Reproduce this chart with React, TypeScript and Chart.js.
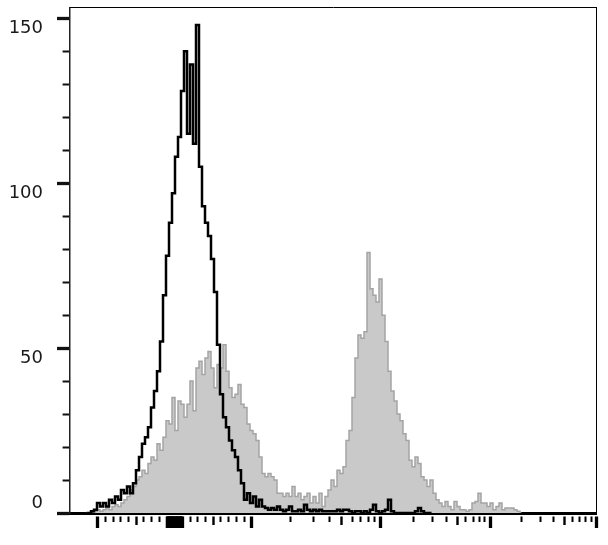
import React, { useEffect, useRef } from "react";
import { Chart, registerables } from "chart.js";

Chart.register(...registerables);

// Histogram bins on the (biexponential) display-channel axis
const CHANNEL_START = 16.5;
const CHANNEL_STEP = 3;

// Control / unstained population (black outline)
const CONTROL_COUNTS = [
  0, 0, 0.5, 1, 3, 2, 3, 2, 4, 3, 5, 4, 7, 6, 8, 6, 9, 13, 17, 21,
  23, 26, 32, 37, 43, 52, 66, 78, 88, 97, 108, 114, 128, 140, 115, 136, 112, 148, 105, 93,
  88, 84, 77, 67, 51, 36, 29, 26, 22, 19, 17, 13, 9, 4, 6, 3, 5, 2, 4, 2,
  1.5, 1, 1.5, 1, 2, 1, 0.5, 1, 2, 0.5, 0.5, 1, 0.5, 2.5, 1, 0.5, 1, 0.5, 1, 0.5,
  0.5, 0.5, 0.5, 0.5, 1, 0.5, 1, 1, 0.5, 0, 0.5, 0.5, 0, 0.5, 0, 1, 2.5, 0.5, 0, 0.5,
  1, 4, 0.5, 0, 0, 0, 0, 0, 0, 0, 0.5, 1.5, 0.5, 0, 0, 0,
];

// Stained population (grey filled)
const STAINED_COUNTS = [
  0, 0, 0, 0.5, 1, 0.5, 1, 1.5, 1, 2, 2.5, 2, 3, 4, 5, 7, 8, 10, 11, 13,
  12, 15, 17, 16, 21, 19, 23, 28, 27, 35, 25, 34, 33, 29, 33, 40, 31, 44, 46, 42,
  47, 49, 44, 38, 45, 44, 51, 43, 38, 35, 36, 39, 33, 32, 27, 25, 24, 22, 17, 12,
  11, 12, 11, 10, 6, 6, 5, 6, 5, 8, 5, 6, 4, 5, 6, 3, 5, 3, 6, 2,
  5, 7, 10, 8, 13, 12, 14, 22, 25, 35, 47, 54, 53, 55, 79, 68, 66, 64, 71, 60,
  52, 43, 37, 34, 30, 28, 24, 22, 16, 14, 17, 15, 11, 10, 8, 10, 6, 4, 3, 2,
  3.5, 2, 1, 3.5, 2, 1, 1, 0.5, 1, 3, 3.5, 6, 3, 3, 2, 3, 1, 2, 3, 1,
  1.5, 1.5, 1.5, 1, 0.5, 0,
];

const Y_TICK_VALUES = [0, 10, 20, 30, 40, 50, 60, 70, 80, 90, 100, 110, 120, 130, 140, 150];
const Y_LABEL_VALUES = [0, 50, 100, 150];
const Y_MAX = 153.3;
const X_MAX = 526;

// Fluorescence tick values (biexponential axis)
const X_LINEAR_TICKS = [
  -1000, -900, -800, -700, -600, -500, -400, -300, -200, -100,
  -90, -80, -70, -60, -50, -40, -30, -20, -10, 0, 10, 20, 30, 40, 50, 60, 70, 80, 90,
  100, 200, 300, 400, 500, 600, 700, 800, 900, 1000,
];
const X_DECADES = [1000, 10000, 100000];
const X_MULTIPLIERS = [2, 3, 4, 5, 6, 7, 8, 9, 10];

// biexponential display transform (value -> display channel)
const ZERO_CHANNEL = 104.7;
const LINEAR_CHANNELS_PER_1000 = 77;
const DECADE_CHANNELS = [129, 109.3, 106];

function toChannel(v: number): number {
  if (Math.abs(v) <= 1000) return ZERO_CHANNEL + (LINEAR_CHANNELS_PER_1000 * v) / 1000;
  let c = ZERO_CHANNEL + LINEAR_CHANNELS_PER_1000;
  let d = Math.log10(v / 1000);
  for (const w of DECADE_CHANNELS) {
    if (d <= 1 + 1e-9) return c + d * w;
    c += w;
    d -= 1;
  }
  return c;
}

function tickKind(v: number): string {
  const a = Math.abs(v);
  if (a <= 100) return "major";
  const p = Math.pow(10, Math.floor(Math.log10(a) + 1e-9));
  const m = Math.round(a / p);
  if (m === 1 && a >= 1000) return "major";
  if (m === 5) return "medium";
  return "minor";
}

function buildXTicks() {
  const values: number[] = [...X_LINEAR_TICKS];
  for (const d of X_DECADES) for (const m of X_MULTIPLIERS) values.push(d * m);
  return values.map((v) => ({ value: toChannel(v), kind: tickKind(v) }));
}

function toPoints(counts: number[]) {
  return counts.map((y, i) => ({ x: CHANNEL_START + i * CHANNEL_STEP, y }));
}

function noPadding(s: any) {
  s.paddingTop = 0;
  s.paddingBottom = 0;
  s.paddingLeft = 0;
  s.paddingRight = 0;
}

export default function App() {
  const canvasRef = useRef<HTMLCanvasElement | null>(null);

  useEffect(() => {
    if (!canvasRef.current) return;
    const xTicks = buildXTicks();
    const chart = new Chart(canvasRef.current, {
      type: "line",
      data: {
        datasets: [
          {
            label: "Control",
            data: toPoints(CONTROL_COUNTS),
            borderColor: "#000000",
            borderWidth: 2.5,
            fill: false,
            stepped: "middle",
            pointRadius: 0,
          },
          {
            label: "Stained",
            data: toPoints(STAINED_COUNTS),
            borderColor: "#a4a4a4",
            backgroundColor: "#c9c9c9",
            borderWidth: 1.5,
            fill: "origin",
            stepped: "middle",
            pointRadius: 0,
          },
        ],
      },
      options: {
        responsive: false,
        animation: false,
        events: [],
        layout: { padding: { left: 0, top: 7.5, right: 12, bottom: 0 } },
        plugins: { legend: { display: false }, tooltip: { enabled: false } },
        scales: {
          x: {
            type: "linear",
            position: "bottom",
            min: 0,
            max: X_MAX,
            afterBuildTicks: (s: any) => {
              s.ticks = xTicks.map((t) => ({ ...t }));
            },
            afterFit: (s: any) => {
              s.height = 32;
              noPadding(s);
            },
            ticks: { display: false, autoSkip: false },
            border: { display: true, width: 3, color: "#000000" },
            grid: {
              display: true,
              drawOnChartArea: false,
              drawTicks: true,
              tickLength: 15,
              tickColor: "#000000",
              tickWidth: (ctx: any) =>
                ctx.tick && ctx.tick.kind === "major" ? 3.3 : ctx.tick && ctx.tick.kind === "medium" ? 2.4 : 2,
              tickBorderDash: (ctx: any) => {
                const k = ctx.tick ? ctx.tick.kind : "minor";
                if (k === "major") return [0, 1.5, 12.5, 40];
                if (k === "medium") return [0, 1.5, 8.5, 40];
                return [0, 1.5, 5.5, 40];
              },
            },
          },
          y: {
            type: "linear",
            position: "left",
            min: 0,
            max: Y_MAX,
            afterBuildTicks: (s: any) => {
              s.ticks = Y_TICK_VALUES.map((v) => ({ value: v }));
            },
            afterFit: (s: any) => {
              s.width = 70;
              noPadding(s);
            },
            border: { display: true, width: 1.5, color: "#222222" },
            grid: {
              display: true,
              drawOnChartArea: false,
              drawTicks: true,
              tickLength: 13,
              tickColor: "#111111",
              tickWidth: (ctx: any) => (ctx.tick && Y_LABEL_VALUES.includes(ctx.tick.value) ? 3.3 : 2),
              tickBorderDash: (ctx: any) =>
                ctx.tick && Y_LABEL_VALUES.includes(ctx.tick.value) ? [] : [0, 5.6, 6.6, 40],
            },
            ticks: {
              autoSkip: false,
              padding: 14,
              color: "#1a1a1a",
              font: { family: "'DejaVu Sans', sans-serif", size: 18, lineHeight: 1.1 },
              callback: (value: any) => {
                const v = Number(value);
                if (!Y_LABEL_VALUES.includes(v)) return "";
                return v === 0 ? [String(v), ""] : ["", String(v)];
              },
            },
          },
          x2: {
            type: "linear",
            position: "top",
            afterFit: (s: any) => {
              s.height = 0;
              noPadding(s);
            },
            ticks: { display: false },
            grid: { display: false },
            border: { display: true, width: 1, color: "#000000" },
          },
          y2: {
            type: "linear",
            position: "right",
            afterFit: (s: any) => {
              s.width = 0;
              noPadding(s);
            },
            ticks: { display: false },
            grid: { display: false },
            border: { display: true, width: 1, color: "#000000" },
          },
        },
      },
    } as any);
    return () => chart.destroy();
  }, []);

  return (
    <div style={{ position: "absolute", left: 0, top: 0, width: 608, height: 545, background: "#ffffff" }}>
      <canvas ref={canvasRef} width={608} height={545} style={{ display: "block" }} />
    </div>
  );
}
